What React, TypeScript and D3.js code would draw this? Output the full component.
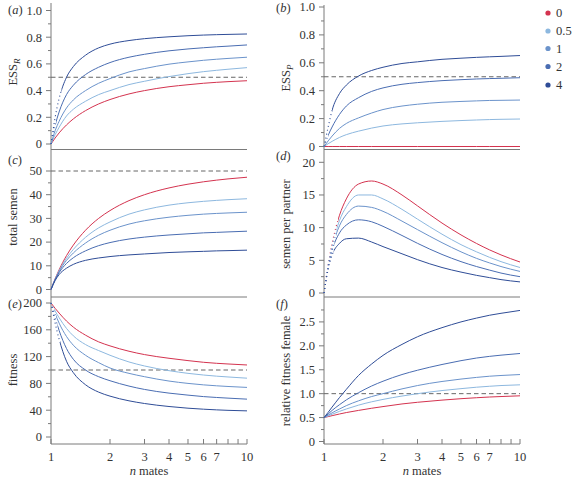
import React from "react";
import * as d3 from "d3";

// ---------- data ----------
const nMates = [1, 1.05, 1.1, 1.2, 1.3, 1.5, 1.75, 2, 2.5, 3, 4, 5, 6, 7, 8, 10];
const costLabels = ["0", "0.5", "1", "2", "4"];
const costColors = ["#d4334f", "#8db8df", "#6b93cb", "#4a6db2", "#2f4d97"];
const xTickValues = [1, 2, 3, 4, 5, 6, 7, 8, 9, 10];
const xTickLabels = ["1", "2", "3", "4", "5", "6", "7", "", "", "10"];

// (a) ESS_R
const essR_c0 = [0, 0.045, 0.083, 0.143, 0.188, 0.25, 0.3, 0.333, 0.375, 0.4, 0.429, 0.444, 0.455, 0.462, 0.467, 0.474];
const essR_c05 = [0, 0.07, 0.125, 0.21, 0.26, 0.32, 0.37, 0.4, 0.445, 0.47, 0.505, 0.527, 0.542, 0.552, 0.56, 0.572];
const essR_c1 = [0, 0.1, 0.17, 0.27, 0.33, 0.4, 0.455, 0.49, 0.54, 0.565, 0.598, 0.615, 0.627, 0.635, 0.641, 0.65];
const essR_c2 = [0, 0.14, 0.24, 0.37, 0.44, 0.52, 0.575, 0.61, 0.65, 0.672, 0.698, 0.712, 0.721, 0.728, 0.733, 0.742];
const essR_c4 = [0, 0.2, 0.34, 0.5, 0.58, 0.665, 0.72, 0.748, 0.775, 0.789, 0.803, 0.811, 0.816, 0.819, 0.821, 0.824];

// (b) ESS_P
const essP_c0 = [0, 0, 0, 0, 0, 0, 0, 0, 0, 0, 0, 0, 0, 0, 0, 0];
const essP_c05 = [0, 0.02, 0.037, 0.065, 0.085, 0.11, 0.132, 0.147, 0.162, 0.17, 0.18, 0.186, 0.19, 0.193, 0.195, 0.197];
const essP_c1 = [0, 0.04, 0.075, 0.13, 0.165, 0.205, 0.24, 0.265, 0.29, 0.303, 0.317, 0.323, 0.327, 0.33, 0.331, 0.333];
const essP_c2 = [0, 0.08, 0.14, 0.23, 0.29, 0.35, 0.395, 0.42, 0.446, 0.458, 0.472, 0.479, 0.484, 0.487, 0.489, 0.493];
const essP_c4 = [0, 0.14, 0.26, 0.38, 0.44, 0.505, 0.545, 0.568, 0.595, 0.607, 0.625, 0.633, 0.639, 0.643, 0.646, 0.652];

// (c) total semen
const total_c0 = [0, 4.55, 8.33, 14.3, 18.75, 25, 30, 33.3, 37.5, 40, 42.86, 44.44, 45.45, 46.15, 46.67, 47.37];
const total_c05 = [0, 4.4, 7.9, 13.2, 16.9, 22, 26, 28.5, 31.8, 33.6, 35.6, 36.6, 37.2, 37.6, 37.9, 38.3];
const total_c1 = [0, 4.3, 7.6, 12.3, 15.4, 19.6, 22.9, 25, 27.6, 29, 30.5, 31.3, 31.8, 32.1, 32.3, 32.6];
const total_c2 = [0, 4.1, 7.1, 11, 13.4, 16.3, 18.5, 19.8, 21.3, 22.1, 23, 23.5, 23.9, 24.1, 24.3, 24.6];
const total_c4 = [0, 3.8, 6.3, 9, 10.6, 12.3, 13.3, 13.9, 14.6, 15, 15.6, 15.9, 16.1, 16.3, 16.4, 16.6];

// (d) semen per partner
const perPartner_c0 = [0, 4.33, 7.58, 11.9, 14.4, 16.67, 17.14, 16.67, 15, 13.33, 10.7, 8.89, 7.58, 6.59, 5.83, 4.74];
const perPartner_c05 = [0, 4.2, 7.2, 11.1, 13.2, 15, 15, 14.4, 12.8, 11.3, 9, 7.4, 6.3, 5.45, 4.8, 3.9];
const perPartner_c1 = [0, 4.1, 6.9, 10.3, 12, 13.3, 13.1, 12.5, 11, 9.7, 7.7, 6.3, 5.3, 4.6, 4.05, 3.3];
const perPartner_c2 = [0, 3.9, 6.5, 9.2, 10.4, 11.2, 10.9, 10.2, 8.8, 7.6, 5.9, 4.8, 4.05, 3.5, 3.05, 2.5];
const perPartner_c4 = [0, 3.6, 5.8, 7.6, 8.3, 8.4, 7.8, 7.1, 6, 5.1, 3.9, 3.2, 2.7, 2.35, 2.05, 1.7];

// (e) fitness
const fitness_c0 = [200, 192, 185, 173, 164, 152, 142, 136, 128, 123, 117.5, 114, 111.5, 110, 109, 107.5];
const fitness_c05 = [200, 188, 178, 162, 151, 138, 129, 122, 112, 106, 99, 95, 92.5, 90.8, 89.6, 87.8];
const fitness_c1 = [200, 184, 170, 150, 137, 122, 111, 103, 95, 90, 83.5, 80, 77.8, 76.4, 75.4, 74];
const fitness_c2 = [200, 178, 159, 132, 116, 100, 90, 84, 76, 71, 65.5, 62.5, 60.3, 59, 58, 56.5];
const fitness_c4 = [200, 170, 146, 113, 96, 78, 67, 61, 54, 50, 45.5, 43, 41.5, 40.5, 39.8, 39];

// (f) relative fitness female
const relFit_c0 = [0.5, 0.52, 0.54, 0.575, 0.605, 0.65, 0.695, 0.73, 0.785, 0.82, 0.865, 0.895, 0.915, 0.93, 0.94, 0.955];
const relFit_c05 = [0.5, 0.535, 0.57, 0.63, 0.68, 0.76, 0.83, 0.88, 0.95, 1.0, 1.065, 1.105, 1.135, 1.155, 1.17, 1.185];
const relFit_c1 = [0.5, 0.55, 0.6, 0.68, 0.75, 0.85, 0.94, 1.0, 1.1, 1.17, 1.255, 1.305, 1.34, 1.365, 1.38, 1.4];
const relFit_c2 = [0.5, 0.575, 0.65, 0.77, 0.87, 1.02, 1.16, 1.26, 1.4, 1.49, 1.61, 1.69, 1.745, 1.78, 1.805, 1.84];
const relFit_c4 = [0.5, 0.61, 0.72, 0.92, 1.09, 1.38, 1.62, 1.8, 2.03, 2.19, 2.38, 2.5, 2.58, 2.64, 2.68, 2.74];

// ---------- layout ----------
const FONT = "Liberation Serif, Times New Roman, Times, serif";
const AXIS = "#7a7a7a";
const TXT = "#333";
const FS = 12.5;

type Panel = {
  id: string;
  letter: string;
  col: number;
  yDomain: [number, number];
  yRange: [number, number];
  axisY: number;
  ticks: number[];
  minor: number[];
  fmt: (v: number) => string;
  dashed: number | null;
  series: number[][];
  dotEnd: number[];
  title: React.ReactNode;
  titlePos: [number, number];
  letterPos: [number, number];
  bottom: boolean;
};

const rng = (a: number, b: number, s: number) => d3.range(a, b + s / 2, s);
const fmt1 = (v: number) => (v === 0 ? "0" : v.toFixed(1));
const fmt0 = (v: number) => String(v);

const panels: Panel[] = [
  {
    id: "a", letter: "a", col: 0, yDomain: [0, 1], yRange: [144, 10.5], axisY: 149.5,
    ticks: rng(0, 1, 0.2), minor: rng(0.1, 0.9, 0.2), fmt: fmt1, dashed: 0.5,
    series: [essR_c0, essR_c05, essR_c1, essR_c2, essR_c4], dotEnd: [1, 1, 1, 1.06, 1.13],
    title: (<><tspan>ESS</tspan><tspan fontStyle="italic" fontSize={9} dy={3}>R</tspan></>),
    titlePos: [13, 72], letterPos: [8, 14], bottom: false,
  },
  {
    id: "b", letter: "b", col: 1, yDomain: [0, 1], yRange: [146.5, 7], axisY: 149.5,
    ticks: rng(0, 1, 0.2), minor: rng(0.1, 0.9, 0.2), fmt: fmt1, dashed: 0.5,
    series: [essP_c0, essP_c05, essP_c1, essP_c2, essP_c4], dotEnd: [1, 1, 1, 1.05, 1.1],
    title: (<><tspan>ESS</tspan><tspan fontStyle="italic" fontSize={9} dy={3}>P</tspan></>),
    titlePos: [286, 78], letterPos: [276, 12], bottom: false,
  },
  {
    id: "c", letter: "c", col: 0, yDomain: [0, 50], yRange: [289.5, 171], axisY: 297,
    ticks: rng(0, 50, 10), minor: rng(5, 45, 10), fmt: fmt0, dashed: 50,
    series: [total_c0, total_c05, total_c1, total_c2, total_c4], dotEnd: [1, 1, 1, 1, 1],
    title: "total semen", titlePos: [13, 217], letterPos: [8, 164], bottom: false,
  },
  {
    id: "d", letter: "d", col: 1, yDomain: [0, 20], yRange: [293, 162.3], axisY: 297,
    ticks: rng(0, 20, 5), minor: rng(2.5, 17.5, 5), fmt: fmt0, dashed: null,
    series: [perPartner_c0, perPartner_c05, perPartner_c1, perPartner_c2, perPartner_c4],
    dotEnd: [1.18, 1.16, 1.15, 1.13, 1.12],
    title: "semen per partner", titlePos: [286, 224], letterPos: [276, 160], bottom: false,
  },
  {
    id: "e", letter: "e", col: 0, yDomain: [0, 200], yRange: [437, 303], axisY: 444,
    ticks: rng(0, 200, 40), minor: rng(20, 180, 40), fmt: fmt0, dashed: 100,
    series: [fitness_c0, fitness_c05, fitness_c1, fitness_c2, fitness_c4], dotEnd: [1, 1.04, 1.06, 1.08, 1.11],
    title: "fitness", titlePos: [13, 370], letterPos: [8, 308], bottom: true,
  },
  {
    id: "f", letter: "f", col: 1, yDomain: [0, 3], yRange: [441.5, 298], axisY: 444,
    ticks: rng(0, 2.5, 0.5), minor: rng(0.25, 2.75, 0.5), fmt: fmt1, dashed: 1,
    series: [relFit_c0, relFit_c05, relFit_c1, relFit_c2, relFit_c4], dotEnd: [1, 1, 1, 1, 1],
    title: "relative fitness female", titlePos: [286, 371], letterPos: [276, 308], bottom: true,
  },
];

const colX = [
  d3.scaleLog().domain([1, 10]).range([51, 247]),
  d3.scaleLog().domain([1, 10]).range([324, 520]),
];
const colTop = [3, 5];

const textStyle: React.CSSProperties = { fontFamily: FONT, fontSize: FS, fill: TXT };

function PanelView({ p }: { p: Panel }) {
  const x = colX[p.col];
  const y = d3.scaleLinear().domain(p.yDomain).range(p.yRange);
  const [x0, x1] = x.range();
  const line = d3
    .line<number>()
    .x((_, i) => x(nMates[i]))
    .y((d) => y(d))
    .curve(d3.curveMonotoneX);
  return (
    <g>
      <defs>
        {p.series.map((_, si) => (
          <React.Fragment key={si}>
            <clipPath id={`dot-${p.id}-${si}`}>
              <rect x={x0 - 2} y={0} width={x(p.dotEnd[si]) - x0 + 2} height={478} />
            </clipPath>
            <clipPath id={`sol-${p.id}-${si}`}>
              <rect x={x(p.dotEnd[si])} y={0} width={x1 - x(p.dotEnd[si]) + 2} height={478} />
            </clipPath>
          </React.Fragment>
        ))}
      </defs>
      <line x1={x0} x2={x1} y1={p.axisY} y2={p.axisY} stroke={AXIS} strokeWidth={1} />
      {p.ticks.map((t) => (
        <g key={`t${t}`}>
          <line x1={x0 - 5} x2={x0} y1={y(t)} y2={y(t)} stroke={AXIS} />
          <text x={x0 - 9} y={y(t)} dy="0.35em" textAnchor="end" style={textStyle}>
            {p.fmt(t)}
          </text>
        </g>
      ))}
      {p.minor.map((t) => (
        <line key={`m${t}`} x1={x0 - 3} x2={x0} y1={y(t)} y2={y(t)} stroke={AXIS} />
      ))}
      {p.dashed !== null && (
        <line x1={x0} x2={x1} y1={y(p.dashed)} y2={y(p.dashed)} stroke="#666" strokeDasharray="4.5,3" strokeWidth={1} />
      )}
      {p.series.map((s, si) => {
        const d = line(s) || "";
        return (
          <g key={si}>
            {p.dotEnd[si] > 1 && (
              <path d={d} fill="none" stroke={costColors[si]} strokeWidth={1.1} strokeDasharray="1,3"
                clipPath={`url(#dot-${p.id}-${si})`} />
            )}
            <path d={d} fill="none" stroke={costColors[si]} strokeWidth={1}
              clipPath={p.dotEnd[si] > 1 ? `url(#sol-${p.id}-${si})` : undefined} />
          </g>
        );
      })}
      {p.bottom &&
        xTickValues.map((v, i) => (
          <g key={`x${v}`}>
            <line x1={x(v)} x2={x(v)} y1={p.axisY} y2={p.axisY - 5} stroke={AXIS} />
            {xTickLabels[i] && (
              <text x={x(v)} y={p.axisY + 13} dy="0.35em" textAnchor="middle" style={textStyle}>
                {xTickLabels[i]}
              </text>
            )}
          </g>
        ))}
      {p.bottom && (
        <text x={(x0 + x1) / 2} y={471} dy="0.35em" textAnchor="middle" style={textStyle}>
          <tspan fontStyle="italic">n</tspan> mates
        </text>
      )}
      <text transform={`translate(${p.titlePos[0]},${p.titlePos[1]}) rotate(-90)`} textAnchor="middle"
        dy="0.35em" style={textStyle}>
        {p.title}
      </text>
      <text x={p.letterPos[0]} y={p.letterPos[1]} style={textStyle}>
        (<tspan fontStyle="italic">{p.letter}</tspan>)
      </text>
    </g>
  );
}

export default function App() {
  return (
    <svg width={572} height={478} style={{ position: "absolute", left: 0, top: 0, background: "#fff" }}>
      {colX.map((x, c) => (
        <line key={c} x1={x.range()[0]} x2={x.range()[0]} y1={colTop[c]} y2={444} stroke={AXIS} strokeWidth={1} />
      ))}
      {panels.map((p) => (
        <PanelView key={p.id} p={p} />
      ))}
      {costLabels.map((lab, i) => {
        const ly = [13, 31, 48.5, 66.5, 85][i];
        return (
          <g key={lab}>
            <circle cx={548} cy={ly} r={2.6} fill={costColors[i]} />
            <text x={556} y={ly} dy="0.35em" style={textStyle}>
              {lab}
            </text>
          </g>
        );
      })}
    </svg>
  );
}
